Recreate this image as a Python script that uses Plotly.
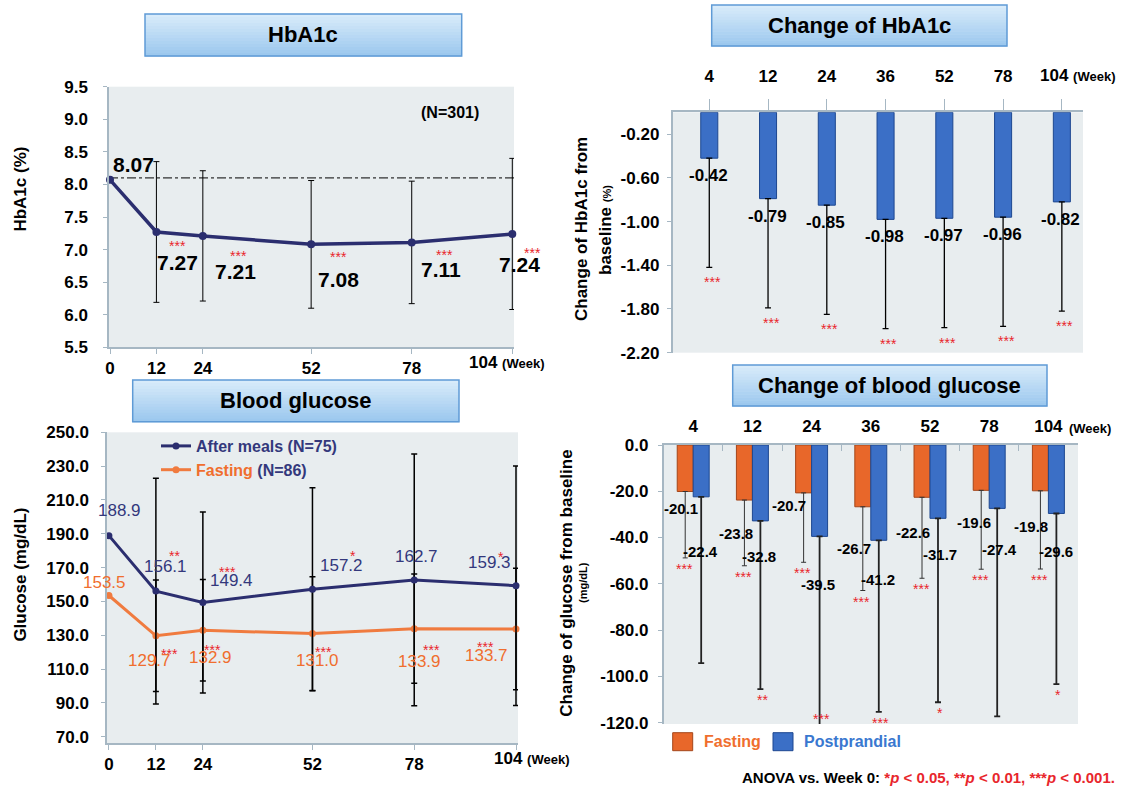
import plotly.graph_objects as go

W, H = 1121, 786
FONT = "Arial, 'Liberation Sans', Helvetica, sans-serif"

# ---------------- data ----------------
# Panel 1: HbA1c
hba1c_weeks = [0, 12, 24, 52, 78, 104]
hba1c_week_labels = ["0", "12", "24", "52", "78", "104"]
hba1c_mean = [8.07, 7.27, 7.21, 7.08, 7.11, 7.24]
hba1c_sd = [None, 1.08, 1.00, 0.98, 0.94, 1.16]
hba1c_sig = ["", "***", "***", "***", "***", "***"]
hba1c_ref = 8.1
hba1c_n = "(N=301)"
hba1c_yticks = [5.5, 6.0, 6.5, 7.0, 7.5, 8.0, 8.5, 9.0, 9.5]
hba1c_yticklabels = ["5.5", "6.0", "6.5", "7.0", "7.5", "8.0", "8.5", "9.0", "9.5"]

# Panel 2: change of HbA1c
chg_weeks = ["4", "12", "24", "36", "52", "78", "104"]
chg_hba1c = [-0.42, -0.79, -0.85, -0.98, -0.97, -0.96, -0.82]
chg_hba1c_sd = [1.00, 1.00, 1.00, 1.00, 1.00, 1.00, 1.00]
chg_hba1c_sig = ["***", "***", "***", "***", "***", "***", "***"]
chg_hba1c_yticks = [-0.2, -0.6, -1.0, -1.4, -1.8, -2.2]
chg_hba1c_yticklabels = ["-0.20", "-0.60", "-1.00", "-1.40", "-1.80", "-2.20"]

# Panel 3: blood glucose
glu_weeks = [0, 12, 24, 52, 78, 104]
glu_week_labels = ["0", "12", "24", "52", "78", "104"]
glu_post = [188.9, 156.1, 149.4, 157.2, 162.7, 159.3]
glu_post_sd = [None, 66.7, 53.5, 60.0, 74.4, 70.8]
glu_post_sig = ["", "**", "***", "*", "", "*"]
glu_fast = [153.5, 129.7, 132.9, 131.0, 133.9, 133.7]
glu_fast_sd = [None, 33.0, 30.0, 33.6, 32.3, 35.9]
glu_fast_sig = ["", "***", "***", "***", "***", "***"]
glu_post_name = "After meals (N=75)"
glu_fast_name = "Fasting"
glu_fast_n = "(N=86)"
glu_yticks = [70, 90, 110, 130, 150, 170, 190, 210, 230, 250]
glu_yticklabels = ["70.0", "90.0", "110.0", "130.0", "150.0", "170.0", "190.0", "210.0", "230.0", "250.0"]

# Panel 4: change of blood glucose
chg_glu_fast = [-20.1, -23.8, -20.7, -26.7, -22.6, -19.6, -19.8]
chg_glu_fast_sd = [28.7, 28.4, 30.0, 36.2, 35.0, 34.1, 33.8]
chg_glu_post = [-22.4, -32.8, -39.5, -41.2, -31.7, -27.4, -29.6]
chg_glu_post_sd = [71.9, 72.7, 82.5, 74.2, 79.5, 89.9, 73.8]
chg_glu_fast_sig = ["***", "***", "***", "***", "***", "***", "***"]
chg_glu_post_sig = ["", "**", "***", "***", "*", "", "*"]
chg_glu_yticks = [0, -20, -40, -60, -80, -100, -120]
chg_glu_yticklabels = ["0.0", "-20.0", "-40.0", "-60.0", "-80.0", "-100.0", "-120.0"]

# ---------------- styling / layout offsets ----------------
NAVY = "#2b2e6f"
NAVY_TXT = "#33387c"
ORANGE = "#f07b3f"
ORANGE_TXT = "#f06e2e"
RED = "#e8262c"
BLUE_BAR = "#3b6fc6"
BLUE_EDGE = "#1d4790"
ORANGE_BAR = "#e8672a"
ORANGE_EDGE = "#a4461a"
BG = "#e8edef"
AXIS = "#a6b7c3"

# label offsets (pixels; dy positive = up)
hba1c_lbl_dx = [23, 21, 33, 27, 29, 7]
hba1c_lbl_dy = [15.6, -31, -36, -35, -27, -31]
hba1c_star_dx = [0, 21, 36, 27, 33, 20]
hba1c_star_dy = [0, -10, -16, -9, -9, -15]

post_lbl_dx = [10.7, 10, 29, 28.6, 2, -27]
post_lbl_dy = [25.6, 24.4, 21.7, 23.5, 23.2, 23]
fast_lbl_dx = [-4, -6, 8, 4.6, 5.5, -30]
fast_lbl_dy = [13.5, -24.3, -27.4, -26.5, -32.4, -26]
post_star_dx = [0, 19, 25, 41, 0, -15]
post_star_dy = [0, 39.4, 34.7, 37, 0, 32.7]
fast_star_dx = [0, 14, 10, 10.6, 17, -31]
fast_star_dy = [0, -14.3, -15.4, -14.2, -17, -14]

cg_fast_lbl_dx = [-3.8, -8.4, -15, -9.2, -9.1, -6.9, -9]
cg_fast_lbl_dy = [-17.3, -33.3, -13, -41.5, -35, -31.9, -35.2]
cg_post_lbl_dx = [-1, -1, -2, -1, 2, 2, 0]
cg_post_lbl_dy = [-54.9, -35.8, -47.9, -38.7, -36.6, -40.9, -38.2]

BW2 = 0.29
BW4 = 0.27


def px_x(p):
    return p / W


def px_y(p):
    return 1 - p / H


shapes = []
annotations = []


def font(size, color="black", bold=True):
    return dict(family=FONT, size=size, color=color, weight="bold" if bold else "normal")


def add_text(xref, yref, x, y, text, dx=0, dy=0, size=17, color="black", bold=True,
             xanchor="center", angle=0):
    annotations.append(dict(xref=xref, yref=yref, x=x, y=y, text=text, showarrow=False,
                            xshift=dx, yshift=dy, font=font(size, color, bold),
                            xanchor=xanchor, yanchor="middle", textangle=angle))


def add_star(xref, yref, x, y, text, dx=0, dy=0):
    if not text:
        return
    add_text(xref, yref, x, y, text, dx=dx, dy=dy - 4, size=14, color=RED, bold=False)


def title_box(x0, y0, x1, y1, text):
    n = 14
    top = (216, 235, 250)
    bot = (156, 200, 238)
    for i in range(n):
        t = i / (n - 1)
        c = tuple(round(top[k] + (bot[k] - top[k]) * t) for k in range(3))
        ya = y0 + (y1 - y0) * i / n
        yb = y0 + (y1 - y0) * (i + 1) / n + 0.5
        shapes.append(dict(type="rect", xref="paper", yref="paper", x0=px_x(x0), x1=px_x(x1),
                           y0=px_y(yb), y1=px_y(ya), fillcolor="rgb(%d,%d,%d)" % c,
                           line=dict(width=0), layer="above"))
    shapes.append(dict(type="rect", xref="paper", yref="paper", x0=px_x(x0), x1=px_x(x1),
                       y0=px_y(y1), y1=px_y(y0), fillcolor="rgba(0,0,0,0)",
                       line=dict(color="#5f9bd6", width=1.5), layer="above"))
    add_text("paper", "paper", px_x((x0 + x1) / 2), px_y((y0 + y1) / 2), text, size=22)


fig = go.Figure()

# ---------------- Panel 1: HbA1c ----------------
fig.add_trace(go.Scatter(
    x=hba1c_weeks, y=hba1c_mean, mode="lines+markers", xaxis="x", yaxis="y",
    line=dict(color=NAVY, width=3.5), marker=dict(color=NAVY, size=8),
    error_y=dict(type="data", array=hba1c_sd, visible=True, color="black", thickness=1, width=3),
    showlegend=False, cliponaxis=False, hoverinfo="skip"))
shapes.append(dict(type="line", xref="x", yref="y", x0=-0.26, x1=104.44, y0=hba1c_ref, y1=hba1c_ref,
                   line=dict(color="black", width=1, dash="dashdot"), layer="below"))
for i, w in enumerate(hba1c_weeks):
    add_text("x", "y", w, hba1c_mean[i], "%.2f" % hba1c_mean[i], hba1c_lbl_dx[i], hba1c_lbl_dy[i], size=21)
    add_star("x", "y", w, hba1c_mean[i], hba1c_sig[i], hba1c_star_dx[i], hba1c_star_dy[i])
add_text("x", "y", 88, 9.5, hba1c_n, 0, -26, size=16)
add_text("x", "y", 104, 5.5, hba1c_week_labels[-1] + " <span style='font-size:13px'>(Week)</span>",
         dx=-45, dy=-15.5, size=17, xanchor="left")
add_text("paper", "paper", px_x(19.6), px_y(189), "HbA1c (%)", size=17, angle=-90)

# ---------------- Panel 2: change of HbA1c ----------------
xpos2 = list(range(len(chg_weeks)))
fig.add_trace(go.Bar(
    x=xpos2, y=chg_hba1c, width=BW2, xaxis="x2", yaxis="y2",
    marker=dict(color=BLUE_BAR, line=dict(color=BLUE_EDGE, width=1)),
    error_y=dict(type="data", symmetric=False, array=[0] * len(chg_hba1c), arrayminus=chg_hba1c_sd,
                 color="black", thickness=1.3, width=3),
    showlegend=False, hoverinfo="skip"))
for i in xpos2:
    add_text("x2", "y2", i, chg_hba1c[i], "%.2f" % chg_hba1c[i], -1, -17.5, size=17)
    add_star("x2", "y2", i, chg_hba1c[i] - chg_hba1c_sd[i], chg_hba1c_sig[i], 3, -11)
add_text("x2", "paper", xpos2[-1], px_y(76), chg_weeks[-1] + " <span style='font-size:13px'>(Week)</span>",
         dx=-24, size=17, xanchor="left")
add_text("paper", "paper", px_x(581), px_y(229), "Change of HbA1c from", size=17, angle=-90)
add_text("paper", "paper", px_x(605), px_y(230), "baseline <span style='font-size:11px'>(%)</span>",
         size=17, angle=-90)

# ---------------- Panel 3: blood glucose ----------------
fig.add_trace(go.Scatter(
    x=glu_weeks, y=glu_fast, mode="lines+markers", xaxis="x3", yaxis="y3",
    name="<span style='color:%s'>%s</span> %s" % (ORANGE_TXT, glu_fast_name, glu_fast_n),
    line=dict(color=ORANGE, width=3), marker=dict(color=ORANGE, size=7),
    error_y=dict(type="data", array=glu_fast_sd, visible=True, color="black", thickness=1.5, width=3),
    cliponaxis=False, legendrank=2, hoverinfo="skip"))
fig.add_trace(go.Scatter(
    x=glu_weeks, y=glu_post, mode="lines+markers", xaxis="x3", yaxis="y3",
    name=glu_post_name,
    line=dict(color=NAVY, width=3), marker=dict(color=NAVY, size=7),
    error_y=dict(type="data", array=glu_post_sd, visible=True, color="black", thickness=1.5, width=3),
    cliponaxis=False, legendrank=1, hoverinfo="skip"))
for i, w in enumerate(glu_weeks):
    add_text("x3", "y3", w, glu_post[i], "%.1f" % glu_post[i], post_lbl_dx[i], post_lbl_dy[i],
             size=17, color=NAVY_TXT, bold=False)
    add_text("x3", "y3", w, glu_fast[i], "%.1f" % glu_fast[i], fast_lbl_dx[i], fast_lbl_dy[i],
             size=17, color=ORANGE_TXT, bold=False)
    add_star("x3", "y3", w, glu_post[i], glu_post_sig[i], post_star_dx[i], post_star_dy[i])
    add_star("x3", "y3", w, glu_fast[i], glu_fast_sig[i], fast_star_dx[i], fast_star_dy[i])
add_text("x3", "y3", 104, 66.3, glu_week_labels[-1] + " <span style='font-size:13px'>(Week)</span>",
         dx=-24, dy=-15, size=17, xanchor="left")
add_text("paper", "paper", px_x(19.6), px_y(575), "Glucose (mg/dL)", size=17, angle=-90)

# ---------------- Panel 4: change of blood glucose ----------------
fig.add_trace(go.Bar(
    x=chg_weeks, y=chg_glu_fast, width=BW4, offset=-BW4, xaxis="x4", yaxis="y4",
    marker=dict(color=ORANGE_BAR, line=dict(color=ORANGE_EDGE, width=1)),
    error_y=dict(type="data", symmetric=False, array=[0] * 7, arrayminus=chg_glu_fast_sd,
                 color="#333333", thickness=1, width=2.5),
    showlegend=False, hoverinfo="skip"))
fig.add_trace(go.Bar(
    x=chg_weeks, y=chg_glu_post, width=BW4, offset=0, xaxis="x4", yaxis="y4",
    marker=dict(color=BLUE_BAR, line=dict(color=BLUE_EDGE, width=1)),
    error_y=dict(type="data", symmetric=False, array=[0] * 7, arrayminus=chg_glu_post_sd,
                 color="#222222", thickness=1.8, width=3),
    showlegend=False, hoverinfo="skip"))
for i in range(len(chg_weeks)):
    xf = i - BW4 / 2
    xp = i + BW4 / 2
    add_text("x4", "y4", xf, chg_glu_fast[i], "%.1f" % chg_glu_fast[i], cg_fast_lbl_dx[i], cg_fast_lbl_dy[i], size=15)
    add_text("x4", "y4", xp, chg_glu_post[i], "%.1f" % chg_glu_post[i], cg_post_lbl_dx[i], cg_post_lbl_dy[i], size=15)
    add_star("x4", "y4", xf, chg_glu_fast[i] - chg_glu_fast_sd[i], chg_glu_fast_sig[i], -1, -7)
    pend = chg_glu_post[i] - chg_glu_post_sd[i]
    if pend < -118:
        pend = -113.5
    add_star("x4", "y4", xp, pend, chg_glu_post_sig[i], 2, -7)
add_text("x4", "paper", len(chg_weeks) - 1, px_y(428.3),
         "<span style='font-size:13px'>(Week)</span>", dx=19, size=17, xanchor="left")
add_text("paper", "paper", px_x(566.4), px_y(583.3), "Change of glucose from baseline", size=17, angle=-90)
add_text("paper", "paper", px_x(583), px_y(583), "(mg/dL)", size=11, angle=-90)

# legend for panel 4 (squares + text)
for (x0, col, edge, label, tcol) in [(672.7, ORANGE_BAR, ORANGE_EDGE, "Fasting", ORANGE_TXT),
                                     (773, BLUE_BAR, BLUE_EDGE, "Postprandial", "#3a78d0")]:
    shapes.append(dict(type="rect", xref="paper", yref="paper", x0=px_x(x0), x1=px_x(x0 + 20),
                       y0=px_y(750.7), y1=px_y(732.7), fillcolor=col, line=dict(color=edge, width=1)))
    add_text("paper", "paper", px_x(x0 + 29), px_y(741.7), label, size=16, color=tcol, xanchor="left")

# footnote
add_text("paper", "paper", px_x(1117), px_y(777),
         "ANOVA vs. Week 0: <span style='color:%s'>*<i>p</i> &lt; 0.05, **<i>p</i> &lt; 0.01, "
         "***<i>p</i> &lt; 0.001.</span>" % RED, size=15, xanchor="right")

# title boxes
title_box(145, 14, 461.7, 56, "HbA1c")
title_box(711.7, 5, 1007, 46, "Change of HbA1c")
title_box(132.7, 380, 459, 421.7, "Blood glucose")
title_box(732.7, 365, 1047, 406, "Change of blood glucose")

tickfont = font(17)
common_axis = dict(showgrid=False, zeroline=False, showline=True, linecolor=AXIS, linewidth=1.5,
                   ticks="outside", tickcolor=AXIS, ticklen=5, tickfont=tickfont, automargin=False)

fig.update_layout(
    width=W, height=H, autosize=False,
    margin=dict(l=0, r=0, t=0, b=0, pad=0),
    paper_bgcolor="white", plot_bgcolor=BG,
    barmode="overlay",
    font=dict(family=FONT),
    xaxis=dict(common_axis, domain=[px_x(109), px_x(514)], range=[-0.26, 104.44], anchor="y",
               tickvals=hba1c_weeks, ticktext=hba1c_week_labels[:-1] + [""]),
    yaxis=dict(common_axis, domain=[px_y(347.3), px_y(86.7)], range=[5.5, 9.5], anchor="x",
               tickvals=hba1c_yticks, ticktext=hba1c_yticklabels, ticklen=4, ticklabelstandoff=12),
    xaxis2=dict(common_axis, domain=[px_x(672.5), px_x(1083)], range=[-0.626, 6.36], anchor="y2",
                side="top", tickvals=xpos2, ticktext=chg_weeks[:-1] + [""], ticklen=12,
                ticklabelstandoff=10),
    yaxis2=dict(common_axis, domain=[px_y(352.7), px_y(112.3)], range=[-2.2, 0], anchor="x2",
                tickvals=chg_hba1c_yticks, ticktext=chg_hba1c_yticklabels, ticklen=4, ticklabelstandoff=4),
    xaxis3=dict(common_axis, domain=[px_x(107), px_x(518)], range=[-0.49, 104.51], anchor="y3",
                tickvals=glu_weeks, ticktext=glu_week_labels[:-1] + [""]),
    yaxis3=dict(common_axis, domain=[px_y(743), px_y(432.3)], range=[66.3, 250], anchor="x3",
                tickvals=glu_yticks, ticktext=glu_yticklabels, ticklen=4, ticklabelstandoff=9),
    xaxis4=dict(common_axis, domain=[px_x(663.6), px_x(1078)], range=[-0.5, 6.5], anchor="y4",
                type="category", side="top", ticks="inside", tickson="boundaries", ticklen=6,
                ticklabelstandoff=4),
    yaxis4=dict(common_axis, domain=[px_y(724), px_y(445)], range=[-120.6, 0], anchor="x4",
                tickvals=chg_glu_yticks, ticktext=chg_glu_yticklabels, ticklen=4, ticklabelstandoff=6),
    legend=dict(x=px_x(156), y=px_y(429), xanchor="left", yanchor="top", bgcolor="rgba(0,0,0,0)",
                font=dict(family=FONT, size=16, color=NAVY_TXT, weight="bold"), tracegroupgap=0,
                itemwidth=30),
    showlegend=True,
    shapes=shapes, annotations=annotations,
)

fig.write_html("out.html", config={"responsive": False, "displayModeBar": False},
               post_script="document.body.style.margin='0';document.body.style.overflow='hidden';")
